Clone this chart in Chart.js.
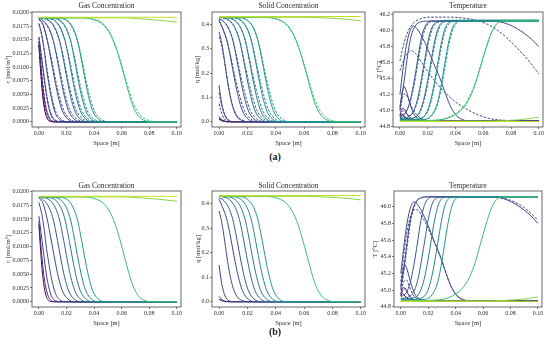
<!DOCTYPE html>
<html>
<head>
<meta charset="utf-8">
<script src="https://cdn.jsdelivr.net/npm/chart.js@4.4.1/dist/chart.umd.min.js"></script>
<style>
  body { margin: 0; width: 550px; height: 350px; background: #fff; position: relative; overflow: hidden; }
  canvas { position: absolute; }
  .sub { position: absolute; width: 40px; text-align: center; font: bold 10px "Liberation Serif", serif; line-height: 12px; color: #222; }
</style>
</head>
<body>
<canvas id="c1"></canvas>
<canvas id="c2"></canvas>
<canvas id="c3"></canvas>
<canvas id="c4"></canvas>
<canvas id="c5"></canvas>
<canvas id="c6"></canvas>
<div class="sub" style="left:255px; top:151px">(a)</div>
<div class="sub" style="left:255px; top:326px">(b)</div>
<script>
// couleurs des profils (temps croissant -> viridis)
const timeColors = ["#440154", "#472a7a", "#433e85", "#3e4a89", "#3f4788", "#39568c", "#31688e",
  "#2a788e", "#23888e", "#1f988b", "#3dbc74", "#86d549", "#c2df23"];

// concentration gaz, modèle 1 (traits pleins) [x (m), c (mol/m3)]
const gasSolid = [
  [[0,0.0140],[0.001,0.0102],[0.002,0.0068],[0.003,0.0042],[0.0045,0.0018],[0.006,0.0006],[0.008,0.0001],[0.011,0],[0.1,0]],
  [[0,0.0146],[0.001,0.0116],[0.002,0.0086],[0.0035,0.0050],[0.005,0.0026],[0.007,0.0009],[0.009,0.0002],[0.012,0],[0.1,0]],
  [[0,0.0155],[0.0015,0.0126],[0.003,0.0096],[0.0045,0.0066],[0.006,0.0041],[0.008,0.0018],[0.010,0.0006],[0.013,0.0001],[0.016,0],[0.1,0]],
  [[0,0.0180],[0.002,0.0160],[0.004,0.0128],[0.0055,0.0097],[0.0075,0.0065],[0.0095,0.0038],[0.012,0.0015],[0.015,0.0004],[0.019,0],[0.1,0]],
  [[0,0.0188],[0.003,0.0178],[0.006,0.0150],[0.008,0.0124],[0.010,0.0097],[0.012,0.0070],[0.014,0.0046],[0.017,0.0020],[0.021,0.0005],[0.026,0],[0.1,0]],
  [[0,0.0190],[0.0035,0.0184],[0.0075,0.0170],[0.0105,0.0148],[0.0125,0.0124],[0.0145,0.0097],[0.0165,0.0070],[0.0185,0.0046],[0.0215,0.0020],[0.0255,0.0005],[0.0305,0],[0.1,0]],
  [[0,0.0190],[0.003,0.0189],[0.008,0.0184],[0.012,0.0170],[0.015,0.0148],[0.017,0.0124],[0.019,0.0097],[0.021,0.0070],[0.023,0.0046],[0.026,0.0020],[0.030,0.0005],[0.035,0],[0.1,0]],
  [[0,0.0190],[0.007,0.0189],[0.012,0.0184],[0.016,0.0170],[0.019,0.0148],[0.021,0.0124],[0.023,0.0097],[0.025,0.0070],[0.027,0.0046],[0.030,0.0020],[0.034,0.0005],[0.039,0],[0.1,0]],
  [[0,0.0190],[0.011,0.0189],[0.016,0.0184],[0.020,0.0170],[0.023,0.0148],[0.025,0.0124],[0.027,0.0097],[0.029,0.0070],[0.031,0.0046],[0.034,0.0020],[0.038,0.0005],[0.043,0],[0.1,0]],
  [[0,0.0190],[0.016,0.0189],[0.021,0.0184],[0.025,0.0170],[0.028,0.0148],[0.030,0.0124],[0.032,0.0097],[0.034,0.0070],[0.036,0.0046],[0.039,0.0020],[0.043,0.0005],[0.048,0],[0.1,0]],
  [[0,0.0190],[0.030,0.0190],[0.040,0.0187],[0.047,0.0178],[0.052,0.0160],[0.056,0.0135],[0.059,0.0110],[0.062,0.0082],[0.065,0.0054],[0.068,0.0030],[0.072,0.0011],[0.077,0.0002],[0.083,0],[0.1,0]],
  [[0,0.0190],[0.06,0.0190],[0.075,0.0188],[0.085,0.0186],[0.093,0.0184],[0.1,0.0182]],
  [[0,0.0191],[0.1,0.0191]]
];

// concentration gaz, modèle 2 (pointillés)
const gasDashed = [
  [[0,0.0141],[0.001,0.0106],[0.002,0.0073],[0.003,0.0047],[0.0045,0.0021],[0.006,0.0008],[0.0085,0.0001],[0.012,0],[0.1,0]],
  [[0,0.0147],[0.001,0.0119],[0.002,0.0090],[0.0035,0.0054],[0.005,0.0029],[0.007,0.0011],[0.0095,0.0002],[0.013,0],[0.1,0]],
  [[0,0.0154],[0.0015,0.0127],[0.003,0.0098],[0.0045,0.0069],[0.006,0.0044],[0.008,0.0021],[0.0105,0.0007],[0.014,0.0001],[0.018,0],[0.1,0]],
  [[0,0.0178],[0.002,0.0158],[0.004,0.0128],[0.006,0.0095],[0.008,0.0064],[0.010,0.0039],[0.0125,0.0017],[0.016,0.0005],[0.021,0],[0.1,0]],
  [[0,0.0187],[0.003,0.0176],[0.006,0.0150],[0.0085,0.0122],[0.0105,0.0097],[0.0125,0.0072],[0.015,0.0045],[0.018,0.0021],[0.022,0.0006],[0.028,0],[0.1,0]],
  [[0,0.0190],[0.0035,0.0183],[0.0075,0.0168],[0.0105,0.0147],[0.013,0.0122],[0.015,0.0097],[0.017,0.0072],[0.0195,0.0045],[0.0225,0.0021],[0.027,0.0006],[0.033,0],[0.1,0]],
  [[0,0.0190],[0.003,0.0189],[0.008,0.0183],[0.012,0.0168],[0.015,0.0147],[0.0175,0.0122],[0.0195,0.0097],[0.0215,0.0072],[0.024,0.0045],[0.027,0.0021],[0.0315,0.0006],[0.038,0],[0.1,0]],
  [[0,0.0190],[0.007,0.0189],[0.012,0.0183],[0.016,0.0168],[0.019,0.0147],[0.0215,0.0122],[0.0235,0.0097],[0.0255,0.0072],[0.028,0.0045],[0.031,0.0021],[0.0355,0.0006],[0.042,0],[0.1,0]],
  [[0,0.0190],[0.011,0.0189],[0.016,0.0183],[0.020,0.0168],[0.023,0.0147],[0.0255,0.0122],[0.0275,0.0097],[0.0295,0.0072],[0.032,0.0045],[0.035,0.0021],[0.0395,0.0006],[0.046,0],[0.1,0]],
  [[0,0.0190],[0.016,0.0189],[0.021,0.0183],[0.025,0.0168],[0.028,0.0147],[0.0305,0.0122],[0.0325,0.0097],[0.0345,0.0072],[0.037,0.0045],[0.040,0.0021],[0.0445,0.0006],[0.051,0],[0.1,0]],
  [[0,0.0190],[0.030,0.0190],[0.040,0.0186],[0.047,0.0176],[0.052,0.0158],[0.056,0.0134],[0.0595,0.0108],[0.0625,0.0082],[0.0655,0.0056],[0.069,0.0031],[0.0735,0.0012],[0.079,0.0003],[0.086,0],[0.1,0]],
  null,
  null
];

// concentration solide [x (m), q (mol/kg)]
const solidSolid = [
  [[0,0.010],[0.002,0.004],[0.004,0.001],[0.007,0],[0.1,0]],
  [[0,0.022],[0.001,0.014],[0.003,0.005],[0.005,0.0015],[0.008,0],[0.1,0]],
  [[0,0.150],[0.001,0.105],[0.002,0.070],[0.0035,0.035],[0.005,0.015],[0.007,0.004],[0.010,0],[0.1,0]],
  [[0,0.370],[0.0015,0.335],[0.003,0.285],[0.0045,0.225],[0.006,0.165],[0.008,0.100],[0.010,0.055],[0.0125,0.022],[0.016,0.006],[0.020,0],[0.1,0]],
  [[0,0.418],[0.0025,0.385],[0.0055,0.335],[0.0075,0.281],[0.0095,0.219],[0.0115,0.158],[0.0135,0.104],[0.0165,0.045],[0.0205,0.011],[0.0255,0],[0.1,0]],
  [[0,0.424],[0.0027,0.416],[0.0067,0.385],[0.0097,0.335],[0.0117,0.281],[0.0137,0.219],[0.0157,0.158],[0.0177,0.104],[0.0207,0.045],[0.0247,0.011],[0.0297,0],[0.1,0]],
  [[0,0.430],[0.0024,0.428],[0.0074,0.416],[0.0114,0.385],[0.0144,0.335],[0.0164,0.281],[0.0184,0.219],[0.0204,0.158],[0.0224,0.104],[0.0254,0.045],[0.0294,0.011],[0.0344,0],[0.1,0]],
  [[0,0.430],[0.0064,0.428],[0.0114,0.416],[0.0154,0.385],[0.0184,0.335],[0.0204,0.281],[0.0224,0.219],[0.0244,0.158],[0.0264,0.104],[0.0294,0.045],[0.0334,0.011],[0.0384,0],[0.1,0]],
  [[0,0.430],[0.0107,0.428],[0.0157,0.416],[0.0197,0.385],[0.0227,0.335],[0.0247,0.281],[0.0267,0.219],[0.0287,0.158],[0.0307,0.104],[0.0337,0.045],[0.0377,0.011],[0.0427,0],[0.1,0]],
  [[0,0.430],[0.0154,0.428],[0.0204,0.416],[0.0244,0.385],[0.0274,0.335],[0.0294,0.281],[0.0314,0.219],[0.0334,0.158],[0.0354,0.104],[0.0384,0.045],[0.0424,0.011],[0.0474,0],[0.1,0]],
  [[0,0.430],[0.030,0.430],[0.040,0.424],[0.047,0.404],[0.052,0.365],[0.056,0.310],[0.059,0.252],[0.062,0.190],[0.065,0.125],[0.068,0.070],[0.072,0.026],[0.077,0.005],[0.083,0],[0.1,0]],
  [[0,0.430],[0.06,0.430],[0.075,0.427],[0.085,0.424],[0.093,0.420],[0.1,0.415]],
  [[0,0.433],[0.1,0.433]]
];

const solidDashed = [
  [[0,0.015],[0.002,0.006],[0.004,0.0015],[0.007,0],[0.1,0]],
  [[0,0.075],[0.001,0.050],[0.0025,0.025],[0.004,0.010],[0.006,0.003],[0.009,0],[0.1,0]],
  [[0,0.120],[0.001,0.090],[0.0025,0.055],[0.004,0.030],[0.006,0.012],[0.008,0.004],[0.011,0],[0.1,0]],
  [[0,0.350],[0.0015,0.320],[0.003,0.275],[0.0045,0.222],[0.006,0.168],[0.008,0.105],[0.010,0.060],[0.0125,0.026],[0.016,0.008],[0.021,0],[0.1,0]],
  [[0,0.415],[0.0025,0.383],[0.0055,0.333],[0.0078,0.279],[0.0100,0.219],[0.0122,0.160],[0.0145,0.106],[0.0178,0.047],[0.022,0.013],[0.028,0],[0.1,0]],
  [[0,0.422],[0.0027,0.414],[0.0067,0.383],[0.0099,0.333],[0.0120,0.279],[0.0142,0.219],[0.0164,0.160],[0.0187,0.106],[0.0220,0.047],[0.0264,0.013],[0.032,0],[0.1,0]],
  [[0,0.430],[0.0024,0.427],[0.0074,0.414],[0.0114,0.383],[0.0146,0.333],[0.0167,0.279],[0.0189,0.219],[0.0211,0.160],[0.0234,0.106],[0.0267,0.047],[0.0311,0.013],[0.037,0],[0.1,0]],
  [[0,0.430],[0.0064,0.427],[0.0114,0.414],[0.0154,0.383],[0.0186,0.333],[0.0207,0.279],[0.0229,0.219],[0.0251,0.160],[0.0274,0.106],[0.0307,0.047],[0.0351,0.013],[0.041,0],[0.1,0]],
  [[0,0.430],[0.0107,0.427],[0.0157,0.414],[0.0197,0.383],[0.0229,0.333],[0.0250,0.279],[0.0272,0.219],[0.0294,0.160],[0.0317,0.106],[0.0350,0.047],[0.0394,0.013],[0.045,0],[0.1,0]],
  [[0,0.430],[0.0154,0.427],[0.0204,0.414],[0.0244,0.383],[0.0276,0.333],[0.0297,0.279],[0.0319,0.219],[0.0341,0.160],[0.0364,0.106],[0.0397,0.047],[0.0441,0.013],[0.050,0],[0.1,0]],
  [[0,0.430],[0.030,0.430],[0.040,0.423],[0.047,0.401],[0.052,0.362],[0.056,0.308],[0.0595,0.248],[0.0625,0.188],[0.0655,0.126],[0.069,0.071],[0.0735,0.028],[0.079,0.007],[0.086,0],[0.1,0]],
  null,
  null
];

// température [x (m), T (°C)]
const tempSolid = [
  [[0,44.93],[0.001,44.96],[0.002,44.95],[0.004,44.91],[0.007,44.88],[0.012,44.87],[0.1,44.87]],
  [[0,44.95],[0.0015,45.03],[0.003,45.02],[0.005,44.96],[0.008,44.90],[0.013,44.87],[0.1,44.87]],
  [[0,45.02],[0.0015,45.22],[0.003,45.30],[0.0045,45.25],[0.007,45.10],[0.010,44.96],[0.014,44.89],[0.02,44.87],[0.1,44.87]],
  [[0,45.20],[0.002,45.50],[0.004,45.75],[0.0065,45.96],[0.0095,46.06],[0.012,46.03],[0.016,45.92],[0.020,45.77],[0.024,45.60],[0.0285,45.42],[0.032,45.25],[0.036,45.07],[0.040,44.95],[0.045,44.89],[0.05,44.87],[0.1,44.87]],
  [[0,45.05],[0.002,45.25],[0.004,45.50],[0.006,45.75],[0.008,45.93],[0.011,46.06],[0.015,46.11],[0.02,46.12],[0.065,46.12],[0.072,46.11],[0.078,46.08],[0.084,46.03],[0.090,45.96],[0.095,45.89],[0.1,45.80]],
  [[0,44.92],[0.004,44.97],[0.007,45.10],[0.0095,45.30],[0.0115,45.50],[0.0135,45.72],[0.016,45.95],[0.019,46.08],[0.023,46.12],[0.1,46.12]],
  [[0,44.90],[0.006,44.92],[0.010,45.00],[0.013,45.17],[0.0155,45.40],[0.0175,45.60],[0.020,45.85],[0.023,46.04],[0.027,46.11],[0.032,46.12],[0.1,46.12]],
  [[0,44.89],[0.010,44.91],[0.014,44.98],[0.017,45.13],[0.020,45.38],[0.022,45.58],[0.0245,45.83],[0.0275,46.03],[0.031,46.11],[0.036,46.12],[0.1,46.12]],
  [[0,44.88],[0.014,44.90],[0.019,44.97],[0.022,45.12],[0.025,45.37],[0.027,45.57],[0.0295,45.82],[0.0325,46.03],[0.036,46.11],[0.041,46.12],[0.1,46.12]],
  [[0,44.88],[0.018,44.89],[0.023,44.95],[0.027,45.10],[0.030,45.35],[0.032,45.56],[0.0345,45.81],[0.0375,46.02],[0.041,46.11],[0.046,46.12],[0.1,46.12]],
  [[0,44.87],[0.025,44.88],[0.035,44.91],[0.043,44.99],[0.049,45.12],[0.054,45.32],[0.058,45.55],[0.062,45.78],[0.066,45.98],[0.070,46.09],[0.074,46.12],[0.1,46.12]],
  [[0,44.87],[0.06,44.87],[0.075,44.875],[0.085,44.885],[0.093,44.90],[0.1,44.92]],
  [[0,44.865],[0.1,44.865]]
];

const tempDashed = [
  [[0,44.92],[0.0015,44.94],[0.004,44.91],[0.008,44.88],[0.013,44.87],[0.1,44.87]],
  [[0,44.94],[0.002,45.00],[0.004,44.98],[0.007,44.92],[0.011,44.88],[0.016,44.87],[0.1,44.87]],
  [[0,45.00],[0.002,45.17],[0.0035,45.21],[0.0055,45.17],[0.008,45.06],[0.012,44.95],[0.017,44.89],[0.024,44.87],[0.1,44.87]],
  [[0,45.50],[0.002,45.60],[0.005,45.71],[0.008,45.75],[0.011,45.72],[0.015,45.62],[0.020,45.49],[0.026,45.35],[0.033,45.22],[0.040,45.11],[0.048,45.02],[0.056,44.95],[0.065,44.90],[0.075,44.88],[0.1,44.87]],
  [[0,45.62],[0.003,45.85],[0.006,46.00],[0.010,46.10],[0.015,46.15],[0.022,46.17],[0.035,46.17],[0.045,46.16],[0.055,46.13],[0.063,46.08],[0.070,46.01],[0.077,45.91],[0.084,45.79],[0.092,45.64],[0.1,45.46]],
  [[0,44.93],[0.004,44.98],[0.007,45.09],[0.010,45.30],[0.012,45.50],[0.014,45.71],[0.0165,45.93],[0.0195,46.07],[0.024,46.12],[0.1,46.13]],
  [[0,44.91],[0.006,44.93],[0.010,45.00],[0.0135,45.17],[0.016,45.40],[0.018,45.60],[0.0205,45.84],[0.0235,46.03],[0.028,46.11],[0.033,46.13],[0.1,46.13]],
  [[0,44.89],[0.010,44.91],[0.0145,44.98],[0.0175,45.13],[0.0205,45.38],[0.0225,45.58],[0.025,45.82],[0.028,46.02],[0.032,46.11],[0.037,46.13],[0.1,46.13]],
  [[0,44.88],[0.014,44.90],[0.0195,44.97],[0.0225,45.12],[0.0255,45.37],[0.0275,45.57],[0.030,45.81],[0.033,46.02],[0.037,46.11],[0.042,46.13],[0.1,46.13]],
  [[0,44.88],[0.018,44.89],[0.0235,44.95],[0.0275,45.10],[0.0305,45.35],[0.0325,45.55],[0.035,45.80],[0.038,46.01],[0.042,46.11],[0.047,46.13],[0.1,46.13]],
  [[0,44.87],[0.025,44.88],[0.035,44.92],[0.043,45.00],[0.049,45.14],[0.054,45.34],[0.058,45.56],[0.062,45.79],[0.066,45.98],[0.070,46.09],[0.075,46.13],[0.1,46.13]],
  null,
  null
];

// rangée (b) : pointillés de température qui se distinguent des traits pleins
const tempDashedB = [
  null,
  [[0,44.93],[0.0015,45.00],[0.003,45.02],[0.005,44.97],[0.008,44.90],[0.012,44.87],[0.1,44.87]],
  [[0,44.95],[0.002,45.10],[0.004,45.12],[0.006,45.05],[0.009,44.94],[0.013,44.89],[0.02,44.87],[0.1,44.87]],
  [[0,45.10],[0.002,45.40],[0.004,45.65],[0.007,45.88],[0.0105,45.97],[0.013,45.95],[0.017,45.84],[0.021,45.70],[0.025,45.55],[0.0295,45.37],[0.033,45.20],[0.037,45.03],[0.041,44.93],[0.046,44.88],[0.052,44.87],[0.1,44.87]],
  [[0,45.00],[0.002,45.20],[0.004,45.45],[0.006,45.70],[0.008,45.90],[0.011,46.05],[0.015,46.11],[0.02,46.12],[0.065,46.12],[0.072,46.11],[0.078,46.09],[0.084,46.05],[0.090,45.99],[0.095,45.92],[0.1,45.84]],
  null, null, null, null, null, null, null, null
];

const serif = "'Liberation Serif', 'DejaVu Serif', serif";
const ink = "#2a2a2a";

// cadre complet autour de la zone de tracé
const frame = {
  id: "frame",
  afterDraw(chart) {
    const a = chart.chartArea;
    const ctx = chart.ctx;
    ctx.save();
    ctx.strokeStyle = "#444";
    ctx.lineWidth = 0.8;
    ctx.strokeRect(a.left, a.top, a.right - a.left, a.bottom - a.top);
    ctx.restore();
  }
};

function toXY(curve) {
  return curve.map((p) => ({ x: p[0], y: p[1] }));
}

function lineSets(solid, dashed) {
  const sets = [];
  solid.forEach((curve, k) => {
    sets.push({ data: toXY(curve), borderColor: timeColors[k] });
    if (dashed && dashed[k]) {
      sets.push({ data: toXY(dashed[k]), borderColor: timeColors[k], borderDash: [2.5, 1.5] });
    }
  });
  return sets.reverse(); // chart.js dessine le premier jeu au-dessus
}

function drawPanel(p) {
  const cv = document.getElementById(p.id);
  cv.width = p.w;
  cv.height = p.h;
  cv.style.left = p.left + "px";
  cv.style.top = p.top + "px";

  const tickFont = { family: serif, size: 6 };
  const labelFont = { family: serif, size: 6.5 };
  const grid = { drawOnChartArea: false, drawTicks: true, tickLength: 2, color: "#444", lineWidth: 0.7 };

  return new Chart(cv, {
    type: "line",
    data: { datasets: lineSets(p.solid, p.dashed) },
    options: {
      responsive: false,
      animation: false,
      devicePixelRatio: 1,
      layout: { padding: { right: 7 } },
      elements: {
        point: { radius: 0 },
        line: { borderWidth: 1, cubicInterpolationMode: "monotone" }
      },
      plugins: {
        legend: { display: false },
        tooltip: { enabled: false },
        title: {
          display: true,
          fullSize: false,
          text: p.title,
          color: ink,
          font: { family: serif, size: 7.5, weight: "normal" },
          padding: p.titlePad
        }
      },
      scales: {
        x: {
          type: "linear",
          min: -0.005,
          max: 0.103,
          afterFit: (s) => { s.height = 20; },
          grid: grid,
          border: { display: false },
          ticks: { stepSize: 0.02, includeBounds: false, maxRotation: 0, padding: 1, font: tickFont, color: ink,
            callback: (v) => v.toFixed(2) },
          title: { display: true, text: "Space [m]", color: ink, font: labelFont, padding: 0 }
        },
        y: {
          min: p.ymin,
          max: p.ymax,
          afterFit: (s) => { s.width = p.yw; },
          grid: grid,
          border: { display: false },
          ticks: { stepSize: p.step, includeBounds: false, padding: 1, font: tickFont, color: ink,
            callback: (v) => v.toFixed(p.dec) },
          title: { display: true, text: p.ylabel, color: ink, font: labelFont, padding: 0 }
        }
      }
    },
    plugins: [frame]
  });
}

const topPad = { top: 1.5, bottom: 1.5 };
const botPad = { top: 3, bottom: 0 };

const panels = [
  { id: "c1", left: 4, top: 0, w: 184, h: 147, yw: 28, titlePad: topPad, title: "Gas Concentration", ylabel: "c [mol/m³]",
    ymin: -0.00095, ymax: 0.02006, step: 0.0025, dec: 4, solid: gasSolid, dashed: gasDashed },
  { id: "c2", left: 193, top: 0, w: 179, h: 147, yw: 19, titlePad: topPad, title: "Solid Concentration", ylabel: "q [mol/kg]",
    ymin: -0.0215, ymax: 0.4515, step: 0.1, dec: 1, solid: solidSolid, dashed: solidDashed },
  { id: "c3", left: 375, top: 0, w: 175, h: 147, yw: 18, titlePad: topPad, title: "Temperature", ylabel: "T [°C]",
    ymin: 44.796, ymax: 46.234, step: 0.2, dec: 1, solid: tempSolid, dashed: tempDashed },
  { id: "c4", left: 4, top: 179, w: 184, h: 148, yw: 28, titlePad: botPad, title: "Gas Concentration", ylabel: "c [mol/m³]",
    ymin: -0.00095, ymax: 0.02006, step: 0.0025, dec: 4, solid: gasSolid, dashed: null },
  { id: "c5", left: 194, top: 179, w: 178, h: 148, yw: 18, titlePad: botPad, title: "Solid Concentration", ylabel: "q [mol/kg]",
    ymin: -0.0215, ymax: 0.4515, step: 0.1, dec: 1, solid: solidSolid, dashed: null },
  { id: "c6", left: 371, top: 179, w: 178, h: 148, yw: 23, titlePad: botPad, title: "Temperature", ylabel: "T [°C]",
    ymin: 44.797, ymax: 46.19, step: 0.2, dec: 1, solid: tempSolid, dashed: tempDashedB }
];

panels.forEach(drawPanel);
</script>
</body>
</html>
